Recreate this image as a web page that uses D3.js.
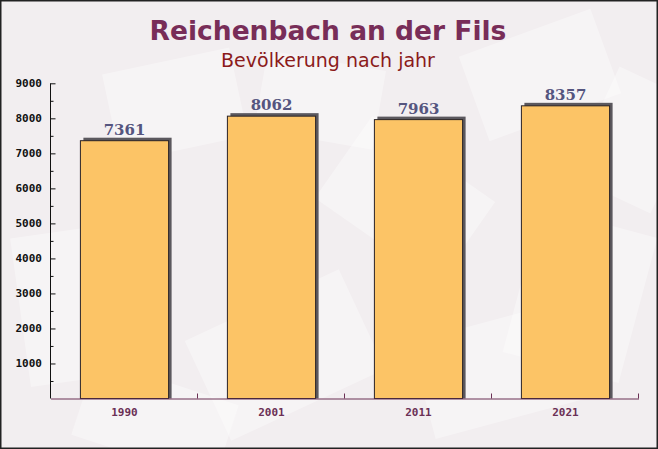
<!DOCTYPE html>
<html>
<head>
<meta charset="utf-8">
<script src="https://cdn.jsdelivr.net/npm/d3@7"></script>
<style>
  html, body { margin: 0; padding: 0; background: #fff; }
  svg { display: block; }
</style>
</head>
<body>
<svg id="chart" width="658" height="449"></svg>
<script>
const title = "Reichenbach an der Fils";
const subtitle = "Bevölkerung nach jahr";
const years = ["1990", "2001", "2011", "2021"];
const population = [7361, 8062, 7963, 8357];
const yTicks = [1000, 2000, 3000, 4000, 5000, 6000, 7000, 8000, 9000];

const W = 658, H = 449;
const svg = d3.select("#chart");

// background
svg.append("rect").attr("x", 0).attr("y", 0).attr("width", W).attr("height", H).attr("fill", "#f2eef0");

// faint envelope-like texture
const bgShapes = [
  {x: 110, y: 60, w: 130, h: 90, r: -12},
  {x: 330, y: 150, w: 150, h: 100, r: 35},
  {x: 470, y: 30, w: 140, h: 90, r: -20},
  {x: 20, y: 230, w: 110, h: 150, r: -8},
  {x: 200, y: 300, w: 170, h: 110, r: -25},
  {x: 520, y: 220, w: 120, h: 150, r: 15},
  {x: 420, y: 320, w: 160, h: 100, r: -15},
  {x: 260, y: 60, w: 120, h: 80, r: 10},
  {x: 590, y: 80, w: 90, h: 120, r: 25},
  {x: 80, y: 380, w: 150, h: 80, r: 18}
];
svg.append("g").selectAll("rect").data(bgShapes).join("rect")
  .attr("x", d => d.x).attr("y", d => d.y).attr("width", d => d.w).attr("height", d => d.h)
  .attr("transform", d => `rotate(${d.r},${d.x + d.w / 2},${d.y + d.h / 2})`)
  .attr("fill", "#ffffff").attr("opacity", 0.35);

const plot = {left: 50.5, right: 638.5, top: 83.3, bottom: 398.5};

const x = d3.scaleBand().domain(years).range([plot.left, plot.right]).padding(0);
const y = d3.scaleLinear().domain([0, 9000]).range([plot.bottom, plot.top]);

const barW = x.bandwidth() * 0.6;
const barX = d => x(d) + (x.bandwidth() - barW) / 2 + 0.5;

const data = years.map((yr, i) => ({year: yr, value: population[i]}));

// shadows
svg.append("g").selectAll("rect").data(data).join("rect")
  .attr("x", d => barX(d.year) + 3)
  .attr("y", d => y(d.value) - 3)
  .attr("width", barW)
  .attr("height", d => plot.bottom - y(d.value) + 3)
  .attr("fill", "#5b585e");

// bars
svg.append("g").selectAll("rect").data(data).join("rect")
  .attr("x", d => barX(d.year))
  .attr("y", d => y(d.value))
  .attr("width", barW)
  .attr("height", d => plot.bottom - y(d.value))
  .attr("fill", "#fcc466")
  .attr("stroke", "#2a2326")
  .attr("stroke-width", 1);

// value labels
svg.append("g").selectAll("text").data(data).join("text")
  .attr("x", d => barX(d.year) + barW / 2)
  .attr("y", d => y(d.value) - 6)
  .attr("text-anchor", "middle")
  .attr("font-family", "DejaVu Serif")
  .attr("font-weight", "bold")
  .attr("font-size", 15)
  .attr("fill", "#55557f")
  .text(d => d.value);

// y axis
const minorTicks = d3.range(500, 9000, 1000);
const yAxis = svg.append("g").attr("transform", `translate(${plot.left},0)`)
  .call(d3.axisRight(y).tickValues(yTicks).tickSize(5).tickFormat(""))
  .call(g => g.select(".domain").remove());
yAxis.selectAll("line").attr("stroke", "#111");
svg.append("g").attr("transform", `translate(${plot.left},0)`)
  .call(d3.axisRight(y).tickValues(minorTicks).tickSize(3).tickFormat(""))
  .call(g => g.select(".domain").remove())
  .selectAll("line").attr("stroke", "#111");
svg.append("line").attr("x1", plot.left).attr("x2", plot.left)
  .attr("y1", plot.top).attr("y2", plot.bottom).attr("stroke", "#111");
svg.append("g").selectAll("text").data(yTicks).join("text")
  .attr("x", 42).attr("y", d => y(d) + 4)
  .attr("text-anchor", "end")
  .attr("font-family", "DejaVu Sans Mono")
  .attr("font-weight", "bold")
  .attr("font-size", 11)
  .attr("fill", "#111")
  .text(d => d);

// x axis
const xAxis = svg.append("g").attr("transform", `translate(0,${plot.bottom})`)
  .call(d3.axisBottom(x).tickValues([]).tickSizeOuter(0));
xAxis.select(".domain").attr("stroke", "#6b3055");
const boundaries = years.map(yr => x(yr)).concat([plot.right]).slice(1);
svg.append("g").selectAll("line").data(boundaries).join("line")
  .attr("x1", d => d).attr("x2", d => d)
  .attr("y1", plot.bottom).attr("y2", plot.bottom - 5)
  .attr("stroke", "#6b3055");
svg.append("g").selectAll("text").data(years).join("text")
  .attr("x", d => barX(d) + barW / 2)
  .attr("y", 416)
  .attr("text-anchor", "middle")
  .attr("font-family", "DejaVu Sans Mono")
  .attr("font-weight", "bold")
  .attr("font-size", 11)
  .attr("fill", "#6b3055")
  .text(d => d);

// titles
svg.append("text").attr("x", 328).attr("y", 40)
  .attr("text-anchor", "middle")
  .attr("font-family", "DejaVu Sans")
  .attr("font-weight", "bold")
  .attr("font-size", 26.5)
  .attr("fill", "#782d58")
  .text(title);
svg.append("text").attr("x", 328).attr("y", 67)
  .attr("text-anchor", "middle")
  .attr("font-family", "DejaVu Sans")
  .attr("font-size", 19)
  .attr("fill", "#8b1a1a")
  .text(subtitle);

// border
svg.append("rect").attr("x", 0.75).attr("y", 0.75).attr("width", W - 1.5).attr("height", H - 1.5)
  .attr("fill", "none").attr("stroke", "#222").attr("stroke-width", 1.5);
</script>
</body>
</html>
